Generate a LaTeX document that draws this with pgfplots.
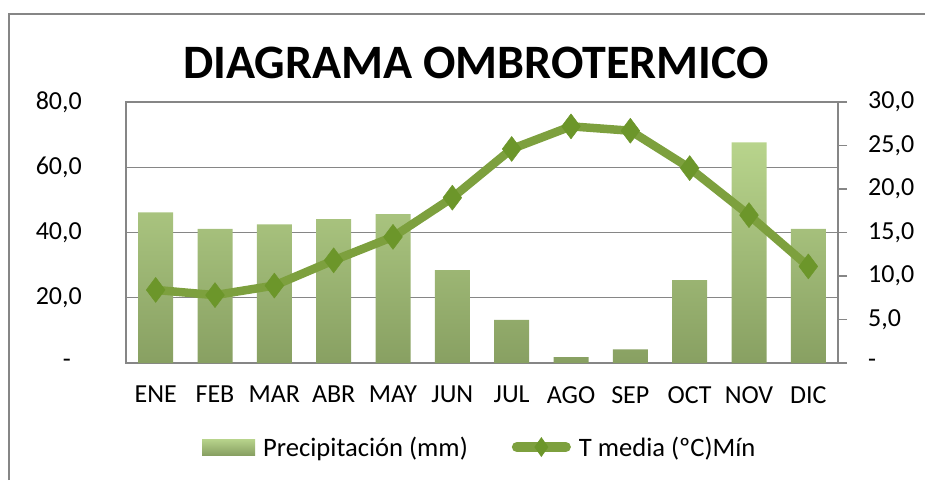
\documentclass[border=0pt]{standalone}
\usepackage{pgfplots}
\pgfplotsset{compat=1.18}
\usepackage{fontspec}
\setmainfont{Carlito}
\definecolor{barTop}{RGB}{184,212,140}
\definecolor{barBot}{RGB}{136,160,98}
\definecolor{lineG}{RGB}{125,160,62}
\definecolor{markG}{RGB}{108,150,42}
\definecolor{axG}{RGB}{134,134,134}
\newcommand{\tf}{\fontsize{26}{30}\selectfont}
\newcommand{\lf}{\fontsize{26.6}{30}\selectfont}
\begin{document}
\begin{tikzpicture}[x=1pt,y=1pt]
\path[use as bounding box] (0,0) rectangle (925,480);
\draw[axG, line width=1.6pt] (9,0) -- (9,466) -- (925,466);
\node[font=\bfseries\fontsize{48}{56}\selectfont, inner sep=0pt] at (476,417) {DIAGRAMA OMBROTERMICO};

\begin{axis}[
  at={(126pt,117pt)}, anchor=south west,
  scale only axis, width=712pt, height=261pt,
  xmin=-0.5, xmax=11.5, ymin=0, ymax=80,
  axis line style={axG, line width=1.4pt},
  tick style={draw=none},
  xtick={0,...,11},
  xticklabels={ENE,FEB,MAR,ABR,MAY,JUN,JUL,AGO,SEP,OCT,NOV,DIC},
  xticklabel style={font=\tf, anchor=north, inner sep=0pt, yshift=-23pt},
  ytick={0,20,40,60,80},
  yticklabels={{-\hspace*{11pt}\mbox{}},{20,0},{40,0},{60,0},{80,0}},
  yticklabel style={font=\tf, anchor=east, inner sep=0pt, xshift=-44pt},
  ymajorgrids, grid style={axG, line width=1.4pt},
]
\addplot[ybar, bar width=35pt, draw=none, top color=barTop, bottom color=barBot] coordinates {
 (0,46.2) (1,41.1) (2,42.5) (3,44.1) (4,45.6) (5,28.5)
 (6,13.2) (7,1.8) (8,4.2) (9,25.4) (10,67.6) (11,41.1)};
\end{axis}

\begin{axis}[
  at={(126pt,117pt)}, anchor=south west,
  scale only axis, width=712pt, height=261pt,
  xmin=-0.5, xmax=11.5, ymin=0, ymax=30,
  axis x line=none,
  axis y line*=right,
  axis line style={axG, line width=1.4pt, -},
  ytick={0,5,...,30},
  yticklabels={{-},{5,0},{10,0},{15,0},{20,0},{25,0},{30,0}},
  ytick style={draw=axG, line width=1.4pt},
  tick align=outside, major tick length=9pt,
  yticklabel style={font=\tf, anchor=west, inner sep=0pt, xshift=21pt},
  legend style={at={(0.497,-0.322)}, anchor=center, draw=none, font=\lf,
    legend columns=2, column sep=0pt,
    /tikz/every odd column/.append style={column sep=6pt},
    /tikz/every even column/.append style={column sep=42pt},
    nodes={inner sep=2pt}},
  legend cell align=left,
]
\addlegendimage{legend image code/.code={\path[draw=none, top color=barTop, bottom color=barBot] (0pt,-8pt) rectangle (53pt,8pt);}}
\addlegendentry{Precipitación (mm)}
\addplot[lineG, line width=8.5pt, line join=round, mark=diamond*, mark size=12.5pt,
  mark options={fill=markG, draw=markG, line width=0.5pt},
  legend image code/.code={\draw[lineG,line width=10pt,line cap=round] (4pt,0pt)--(53pt,0pt); \path[fill=markG, draw=none] (28.5pt,-10pt)--(35.5pt,0pt)--(28.5pt,10pt)--(21.5pt,0pt)--cycle;}]
 coordinates {
 (0,8.4) (1,7.8) (2,8.9) (3,11.8) (4,14.5) (5,19.0)
 (6,24.6) (7,27.2) (8,26.7) (9,22.4) (10,17.0) (11,11.1)};
\addlegendentry{T media (ºC)Mín}
\end{axis}
\end{tikzpicture}
\end{document}
